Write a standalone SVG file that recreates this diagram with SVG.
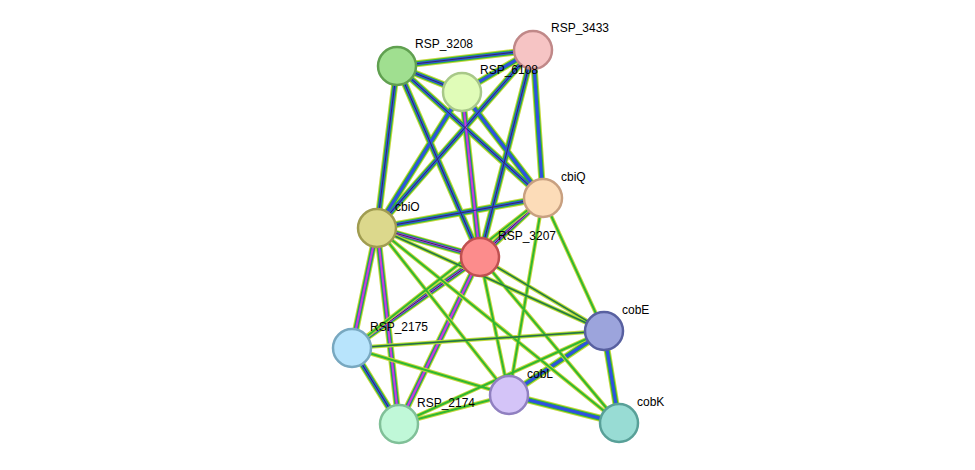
<svg xmlns="http://www.w3.org/2000/svg" width="975" height="470" viewBox="0 0 975 470">
<style>
.a{fill:none;stroke:#c8d840;stroke-width:7}
.b{fill:none;stroke:#30b830;stroke-width:5}
.c{fill:none;stroke:#3050e0;stroke-width:3}
.d{fill:none;stroke:#303060;stroke-width:1}
.m{fill:none;stroke:#d040d0;stroke-width:2}
.n{stroke-width:2.5}
text{font-family:"Liberation Sans",Arial,sans-serif;font-size:12px;fill:#000}
</style>
<rect width="975" height="470" fill="#fff"/>
<g id="connectors">
<!-- strong edges: yellow/green/blue/dark -->
<g>
<path class="a" d="M397 66L533 50M397 66L462 92M397 66L543 198M397 66L377 228M397 66L480 257M533 50L462 92M533 50L543 198M533 50L377 228M533 50L480 257M462 92L543 198M462 92L377 228M462 92L480 257M543 198L377 228M543 198L480 257M377 228L480 257M377 228L352 348M377 228L399 424M480 257L352 348M480 257L399 424M352 348L399 424M509 395L604 331M509 395L619 423M604 331L619 423"/>
<path class="b" d="M397 66L533 50M397 66L462 92M397 66L543 198M397 66L377 228M397 66L480 257M533 50L462 92M533 50L543 198M533 50L377 228M533 50L480 257M462 92L543 198M462 92L377 228M462 92L480 257M543 198L377 228M543 198L480 257M377 228L480 257M377 228L352 348M377 228L399 424M480 257L352 348M480 257L399 424M352 348L399 424M509 395L604 331M509 395L619 423M604 331L619 423"/>
<path class="c" d="M397 66L533 50M397 66L462 92M397 66L543 198M397 66L377 228M397 66L480 257M533 50L462 92M533 50L543 198M533 50L377 228M533 50L480 257M462 92L543 198M462 92L377 228M462 92L480 257M543 198L377 228M543 198L480 257M377 228L480 257M377 228L352 348M377 228L399 424M480 257L352 348M480 257L399 424M352 348L399 424M509 395L604 331M509 395L619 423M604 331L619 423"/>
<path class="m" d="M543 198L480 257M377 228L480 257M462 92L480 257M480 257L352 348M480 257L399 424M377 228L352 348M377 228L399 424"/>
<path class="d" d="M397 66L533 50M397 66L462 92M397 66L543 198M397 66L377 228M397 66L480 257M533 50L377 228M533 50L480 257M543 198L377 228M543 198L480 257M377 228L480 257M480 257L352 348M352 348L399 424"/>
</g>
<!-- weaker edges: yellow/green -->
<g>
<path class="a" style="stroke-width:4" d="M543 198L604 331M543 198L509 395M543 198L352 348M377 228L509 395M377 228L604 331M377 228L619 423M480 257L509 395M480 257L604 331M480 257L619 423M352 348L509 395M352 348L604 331M399 424L509 395M399 424L604 331"/>
<path class="b" style="stroke-width:2" d="M543 198L604 331M543 198L509 395M543 198L352 348M377 228L509 395M377 228L604 331M377 228L619 423M480 257L509 395M480 257L604 331M480 257L619 423M352 348L509 395M352 348L604 331M399 424L509 395M399 424L604 331"/>
<path class="d" style="stroke-width:0.7" d="M377 228L604 331M480 257L604 331M352 348L604 331"/>
</g>
</g>
<g id="RSP_3208"><circle class="n" cx="397" cy="66" r="19" fill="#a0df90" stroke="#60a050"/><text x="415" y="48">RSP_3208</text></g>
<g id="RSP_3433"><circle class="n" cx="533" cy="50" r="19" fill="#f6c4c4" stroke="#c08888"/><text x="551" y="32">RSP_3433</text></g>
<g id="RSP_6108"><circle class="n" cx="462" cy="92" r="19" fill="#e0fcb8" stroke="#a8c888"/><text x="480" y="74">RSP_6108</text></g>
<g id="cbiQ"><circle class="n" cx="543" cy="198" r="19" fill="#fcdcb8" stroke="#c8a080"/><text x="561" y="181">cbiQ</text></g>
<g id="cbiO"><circle class="n" cx="377" cy="228" r="19" fill="#dcd88c" stroke="#a09c50"/><text x="395" y="211">cbiO</text></g>
<g id="RSP_3207"><circle class="n" cx="480" cy="257" r="19" fill="#fc8c8c" stroke="#c05050"/><text x="498" y="240">RSP_3207</text></g>
<g id="cobE"><circle class="n" cx="604" cy="331" r="19" fill="#9ca4dc" stroke="#5860a0"/><text x="622" y="314">cobE</text></g>
<g id="RSP_2175"><circle class="n" cx="352" cy="348" r="19" fill="#b8e4fc" stroke="#78a8c0"/><text x="370" y="331">RSP_2175</text></g>
<g id="cobL"><circle class="n" cx="509" cy="395" r="19" fill="#d4c4f8" stroke="#9080c0"/><text x="527" y="378">cobL</text></g>
<g id="RSP_2174"><circle class="n" cx="399" cy="424" r="19" fill="#c0f8d8" stroke="#80c098"/><text x="417" y="407">RSP_2174</text></g>
<g id="cobK"><circle class="n" cx="619" cy="423" r="19" fill="#98dcd4" stroke="#58a098"/><text x="637" y="406">cobK</text></g>
</svg>
